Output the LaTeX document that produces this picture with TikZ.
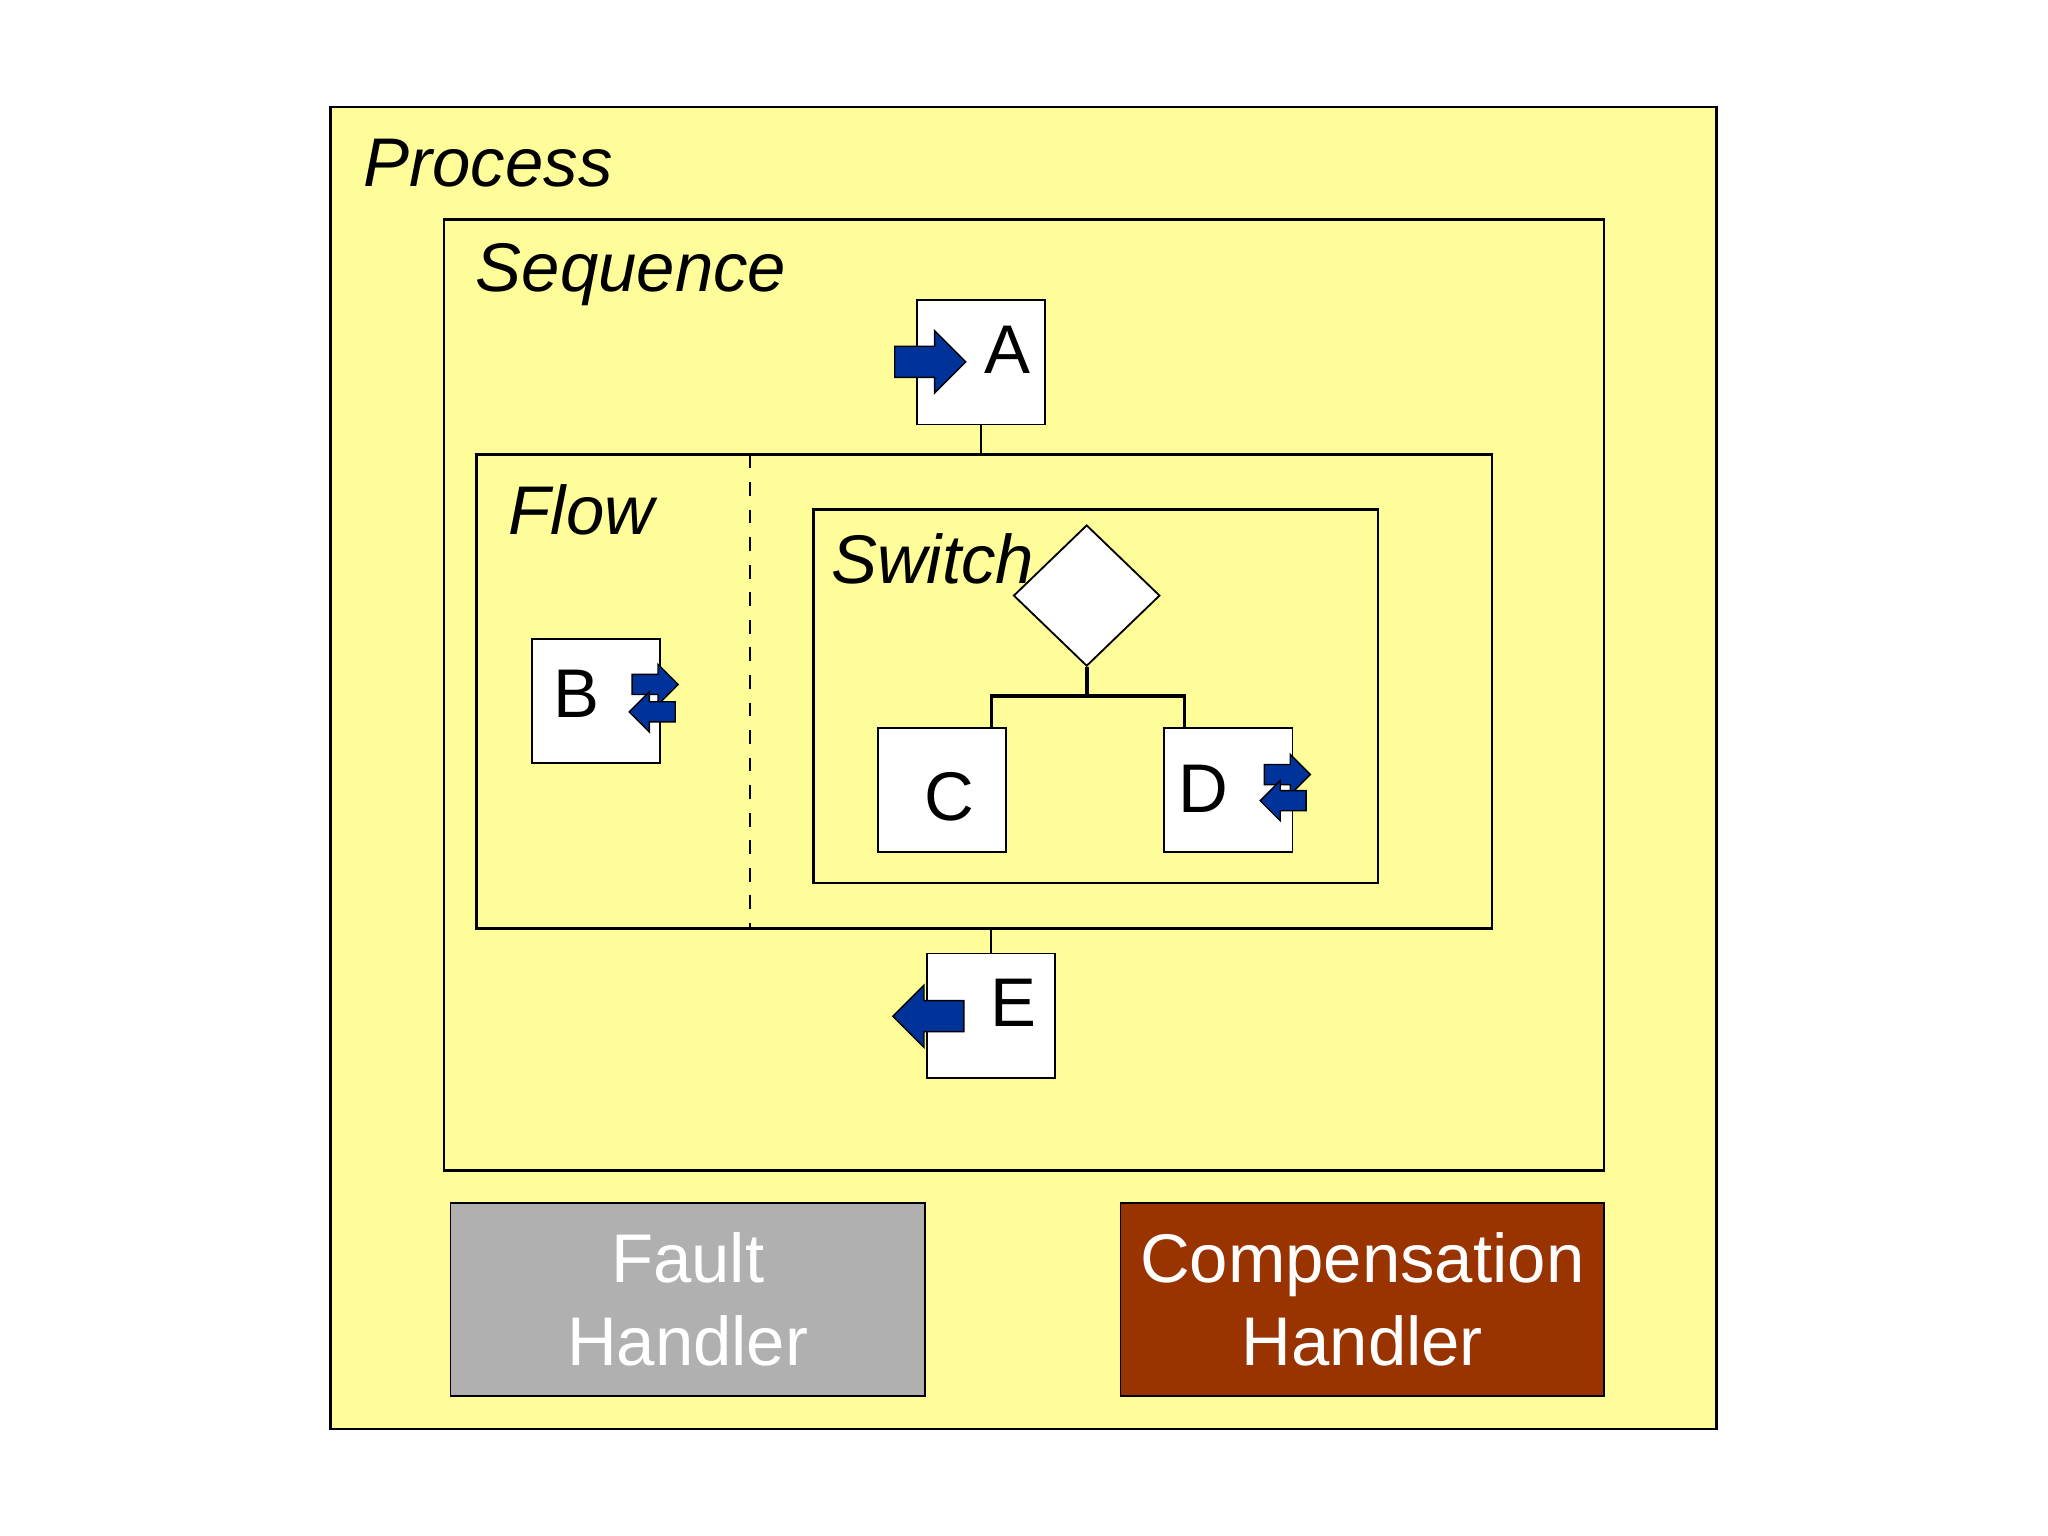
\documentclass[tikz,border=0pt]{standalone}
\usepackage{fontspec}
\setmainfont{Liberation Sans}
\usetikzlibrary{positioning, shapes.geometric}
\definecolor{paleyellow}{HTML}{FFFD99}
\definecolor{arrowblue}{HTML}{003399}
\definecolor{faultgray}{HTML}{B0B0B0}
\definecolor{compred}{HTML}{993300}
\tikzset{
  frame/.style={draw, fill=paleyellow, line width=0.6pt},
  box/.style={draw, fill=white, minimum width=0.98cm, minimum height=0.95cm, inner sep=0pt},
  title/.style={anchor=west, font=\fontsize{15}{18}\selectfont\itshape},
  letter/.style={font=\fontsize{15}{18}\selectfont},
  handler/.style={draw, minimum height=1.48cm, align=center, text=white, font=\fontsize{15}{18}\selectfont},
  rarr/.pic={\filldraw[fill=arrowblue, draw=black, line width=0.3pt] (0,-7)--(18,-7)--(18,-14)--(32,0)--(18,14)--(18,7)--(0,7)--cycle;}
}
\begin{document}
\begin{tikzpicture}[x=0.01cm, y=-0.01cm]
\useasboundingbox (0,0) rectangle (1568,1176);
\fill[white] (0,0) rectangle (1568,1176);

			% Containers
			\draw[frame] (253,82) rectangle (1314,1094);
			\node[title] (process) at (266,125) {Process};
			\draw[frame] (340,168) rectangle (1228,896);
			\node[title] (sequence) at (352,210) {Sequence};
			\node[frame, minimum width=7.77cm, minimum height=3.63cm, inner sep=0pt] (flow) at (753.5,529.5) {};
			\node[title] (flowlabel) at (377,390) {Flow};
			\draw[dashed] (574,348) -- (574,711);
			\draw[frame] (623,390) rectangle (1055,676);
			\node[title] (switch) at (624,428) {Switch};
			% Activities
			\node[box] (a) at (751,277.5) {};
			\node[letter] at (771,268) {A};
			\node[box] (b) at (456.5,536.5) {};
			\node[letter] at (441,531) {B};
			\node[box] (c) at (721.5,605) {};
			\node[letter] at (727,610) {C};
			\node[box] (d) at (940.5,605) {};
			\node[letter] at (921,604) {D};
			\node[box] (e) at (759,777.5) {};
			\node[letter] at (776,768) {E};
			\node[diamond, draw, fill=white, minimum width=1.12cm, minimum height=1.08cm, inner sep=0pt] (choice) at (832,456) {};
			% Connectors
			\draw (a.south) -- (flow.north -| a.south);
			\draw (flow.south -| e.north) -- (e.north);
			\draw[thick] (choice.south) -- (832,533) coordinate (split);
			\draw[thick] (c.north -| 759,0) |- (split) -| (d.north -| 907,0);
			% Blue arrows
			\pic[scale=1.7] at (685,277) {rarr};
			\pic[xscale=-1.7, yscale=1.7] at (738,778) {rarr};
			\pic[scale=1.1] at (484,524) {rarr};
			\pic[xscale=-1.1, yscale=1.1] at (517,545) {rarr};
			\pic[scale=1.1] at (968,593) {rarr};
			\pic[xscale=-1.1, yscale=1.1] at (1000,613) {rarr};
			% Handlers
			\node[handler, fill=faultgray, minimum width=3.63cm] (fault) at (526.5,995) {Fault\\Handler};
			\node[handler, fill=compred, minimum width=3.70cm] (comp) at (1043,995) {Compensation\\Handler};
		\end{tikzpicture}
\end{document}
